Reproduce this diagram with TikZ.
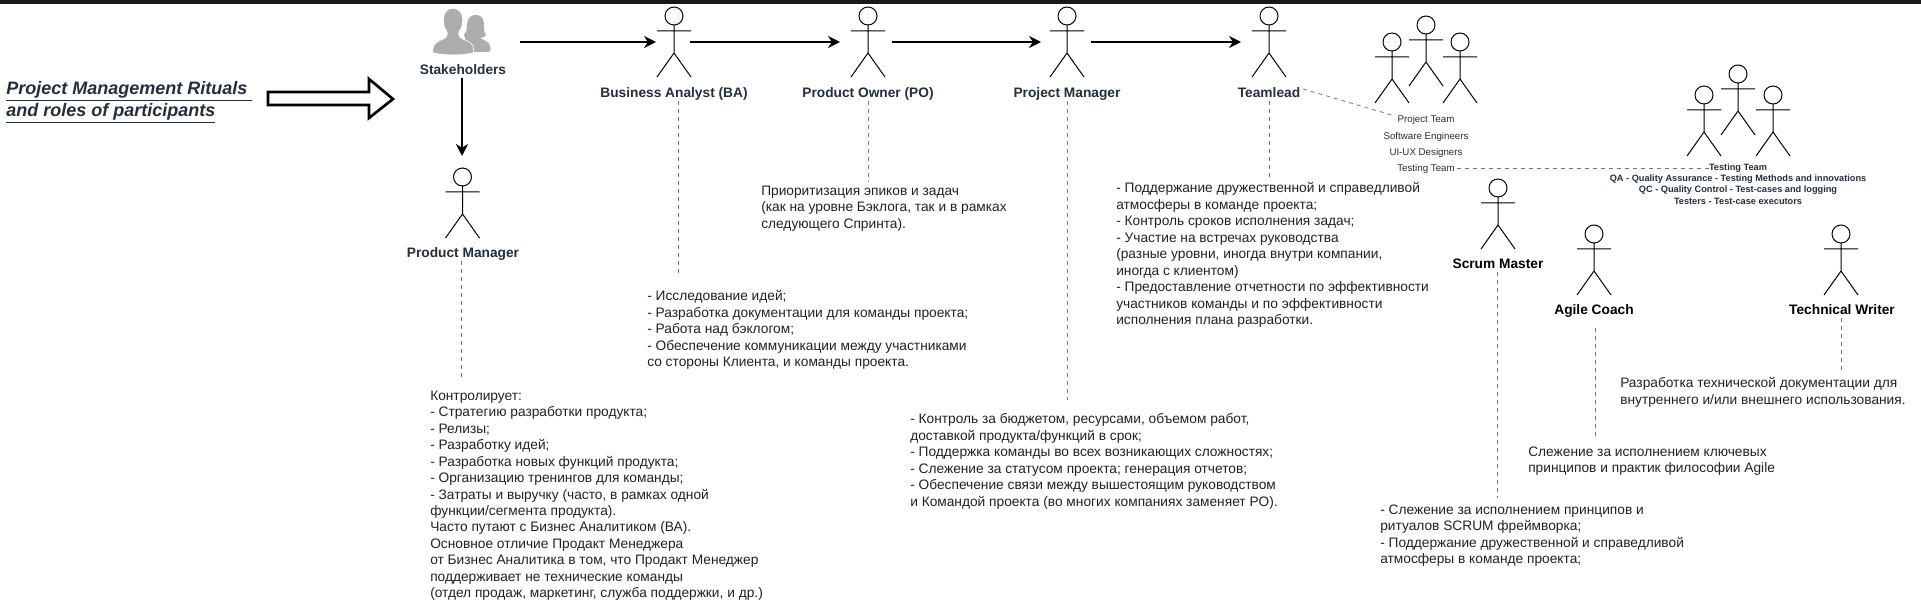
\documentclass[tikz,border=0pt]{standalone}
\usepackage{fontspec}
\setmainfont{Liberation Sans}
\usetikzlibrary{arrows.meta}
\definecolor{navy}{HTML}{232F3E}
\definecolor{bodyc}{HTML}{222222}
\definecolor{dashc}{HTML}{777777}
\definecolor{icong}{HTML}{ADADAD}
\tikzset{
  x=0.75pt,y=-0.75pt,
  actorline/.style={draw=black,line width=0.75pt},
  actor/.pic={
    \draw[actorline] (0,9) circle[radius=9];
    \draw[actorline] (0,18) -- (0,46) (-17,24) -- (17,24) (-17,70) -- (0,46) -- (17,70);
  },
  rolelabel/.style={font=\bfseries\fontsize{10.3pt}{12pt}\selectfont,text=navy,inner sep=0pt,anchor=center,text height=7.6pt,text depth=2pt},
  rolelabelblack/.style={rolelabel,text=black},
  teamlabel/.style={font=\fontsize{7.3pt}{10pt}\selectfont,text=navy,inner sep=0pt,anchor=center},
  testlabel/.style={font=\bfseries\fontsize{6.9pt}{10pt}\selectfont,text=navy,inner sep=0pt,anchor=center},
  bodytext/.style={font=\fontsize{10.3pt}{12.35pt}\selectfont,text=bodyc,inner sep=0pt,anchor=north west,align=left},
  flow/.style={draw=black,line width=2pt,-{Stealth[length=9pt,width=9pt]}},
  guide/.style={draw=dashc,line width=0.6pt,dash pattern=on 3pt off 3pt},
}
\begin{document}
\begin{tikzpicture}
\useasboundingbox (0,0) rectangle (1921,605);
\fill[white] (0,0) rectangle (1921,605);
\fill[black!90] (0,0) rectangle (1921,4);
% title
\node[font=\bfseries\itshape\fontsize{13.5pt}{17pt}\selectfont,text=navy,inner sep=0pt,anchor=north west,align=left] (title) at (6,81) {\underline{Project Management Rituals\ }\\[0pt]\underline{and roles of participants}};
\draw[draw=black,line width=2pt,fill=white] (268,92) -- (369,92) -- (369,79) -- (393,99) -- (369,118) -- (369,105) -- (268,105) -- cycle;
% stakeholders icon
\fill[icong] (476,15) .. controls (469,15) and (467,20) .. (467,26) .. controls (467,30) and (466,33) .. (464,35) -- (470,52) -- (488,52) .. controls (491,51) and (491,50) .. (490,46) .. controls (489,41) and (483,40) .. (480,38) .. controls (483,38) and (485,37) .. (486,35) .. controls (484,33) and (484,29) .. (484,25) .. controls (484,19) and (482,15) .. (476,15) -- cycle;
\draw[icong,fill=icong,preaction={draw=white,line width=1.6pt}] (453,9) .. controls (447,9) and (444,14) .. (444,20) .. controls (444,26) and (446,29) .. (448,32) .. controls (448,37) and (447,38) .. (443,40) .. controls (438,42) and (434,44) .. (433.5,50) -- (433.5,52) .. controls (442,55) and (464,55) .. (473,52) -- (473,50) .. controls (473,44) and (468,42) .. (463,40) .. controls (459,38) and (458,37) .. (458,32) .. controls (460,29) and (462,26) .. (462,20) .. controls (462,14) and (459,9) .. (453,9) -- cycle;
\node[rolelabel] (stake) at (463,71) {Stakeholders};
% actors
\pic at (674,7) {actor};
\pic at (868,7) {actor};
\pic at (1067,7) {actor};
\pic at (1269,7) {actor};
\pic at (462.5,168) {actor};
\pic at (1392,33) {actor};
\pic at (1426,16) {actor};
\pic at (1460,33) {actor};
\pic at (1704,86) {actor};
\pic at (1738,65) {actor};
\pic at (1773,86) {actor};
\pic at (1498,179) {actor};
\pic at (1594,225) {actor};
\pic at (1841,225) {actor};
% role labels
\node[rolelabel] (ba) at (674,94) {Business Analyst (BA)};
\node[rolelabel] (po) at (868,94) {Product Owner (PO)};
\node[rolelabel] (pjm) at (1067,94) {Project Manager};
\node[rolelabel] (tl) at (1269,94) {Teamlead};
\node[rolelabel] (pdm) at (463,254) {Product Manager};
\node[rolelabelblack] (sm) at (1498,265) {Scrum Master};
\node[rolelabelblack] (ac) at (1594,311) {Agile Coach};
\node[rolelabelblack] (tw) at (1842,311) {Technical Writer};
% team labels
\node[teamlabel] (pt) at (1426,119.5) {Project Team};
\node[teamlabel] (se) at (1426,136.5) {Software Engineers};
\node[teamlabel] (ux) at (1426,152.5) {UI-UX Designers};
\node[teamlabel] (tt) at (1426,169) {Testing Team};
\node[testlabel] (tt2) at (1738,168.5) {Testing Team};
\node[testlabel] (qa) at (1738,179.5) {QA - Quality Assurance - Testing Methods and innovations};
\node[testlabel] (qc) at (1738,190.5) {QC - Quality Control - Test-cases and logging};
\node[testlabel] (ts) at (1738,201.5) {Testers - Test-case executors};
% flow arrows
\coordinate (aS) at (520,42); \coordinate (aBa) at (656,42);
\coordinate (aBb) at (690,42); \coordinate (aPo) at (840,42);
\coordinate (aPb) at (892,42); \coordinate (aPj) at (1041,42);
\coordinate (aPk) at (1091,42); \coordinate (aTl) at (1241,42);
\coordinate (aDn) at (462,156);
\draw[flow] (aS) -- (aBa);
\draw[flow] (aBb) -- (aPo);
\draw[flow] (aPb) -- (aPj);
\draw[flow] (aPk) -- (aTl);
\draw[flow] (stake.south -| aDn) -- (aDn);
% body text
\node[bodytext] (tpdm) at (430,390.5) {Контролирует:\\- Стратегию разработки продукта;\\- Релизы;\\- Разработку идей;\\- Разработка новых функций продукта;\\- Организацию тренингов для команды;\\- Затраты и выручку (часто, в рамках одной\\функции/сегмента продукта).\\Часто путают с Бизнес Аналитиком (ВА).\\Основное отличие Продакт Менеджера\\от Бизнес Аналитика в том, что Продакт Менеджер\\поддерживает не технические команды\\(отдел продаж, маркетинг, служба поддержки, и др.)};
\node[bodytext] (tba) at (647,290.5) {- Исследование идей;\\- Разработка документации для команды проекта;\\- Работа над бэклогом;\\- Обеспечение коммуникации между участниками\\со стороны Клиента, и команды проекта.};
\node[bodytext] (tpo) at (761,185.5) {Приоритизация эпиков и задач\\(как на уровне Бэклога, так и в рамках\\следующего Спринта).};
\node[bodytext] (tpj) at (910,413.5) {- Контроль за бюджетом, ресурсами, объемом работ,\\доставкой продукта/функций в срок;\\- Поддержка команды во всех возникающих сложностях;\\- Слежение за статусом проекта; генерация отчетов;\\- Обеспечение связи между вышестоящим руководством\\и Командой проекта (во многих компаниях заменяет PO).};
\node[bodytext] (ttl) at (1116,182.5) {- Поддержание дружественной и справедливой\\атмосферы в команде проекта;\\- Контроль сроков исполнения задач;\\- Участие на встречах руководства\\(разные уровни, иногда внутри компании,\\иногда с клиентом)\\- Предоставление отчетности по эффективности\\участников команды и по эффективности\\исполнения плана разработки.};
\node[bodytext] (ttw) at (1620,377.5) {Разработка технической документации для\\внутреннего и/или внешнего использования.};
\node[bodytext] (tac) at (1528,446.5) {Слежение за исполнением ключевых\\принципов и практик философии Agile};
\node[bodytext] (tsm) at (1380,504.5) {- Слежение за исполнением принципов и\\ритуалов SCRUM фреймворка;\\- Поддержание дружественной и справедливой\\атмосферы в команде проекта;};
% dashed connectors
\coordinate (dPdm) at (461,377);
\coordinate (dBa) at (678,275);
\coordinate (dPo) at (868,181);
\coordinate (dPj) at (1067,400);
\coordinate (dTl) at (1269,180);
\coordinate (dSm) at (1497,498);
\coordinate (dAcT) at (1595,328);
\coordinate (dAc) at (1595,438);
\coordinate (dTw) at (1841,373);
\coordinate (dPt) at (1395,116);
\coordinate (dTlR) at (1303,89);
\coordinate (dTtE) at (1709,168);
\coordinate (dTtS) at (1457,168);
\draw[guide] (pdm.south -| dPdm) -- (dPdm);
\draw[guide] (ba.south -| dBa) -- (dBa);
\draw[guide] (po.south -| dPo) -- (dPo);
\draw[guide] (pjm.south -| dPj) -- (dPj);
\draw[guide] (tl.south -| dTl) -- (dTl);
\draw[guide] (sm.south -| dSm) -- (dSm);
\draw[guide] (dAcT) -- (dAc);
\draw[guide] (tw.south -| dTw) -- (dTw);
\draw[guide] (dTlR) -- (dPt);
\draw[guide] (dTtS) -- (dTtE);
\end{tikzpicture}
\end{document}
